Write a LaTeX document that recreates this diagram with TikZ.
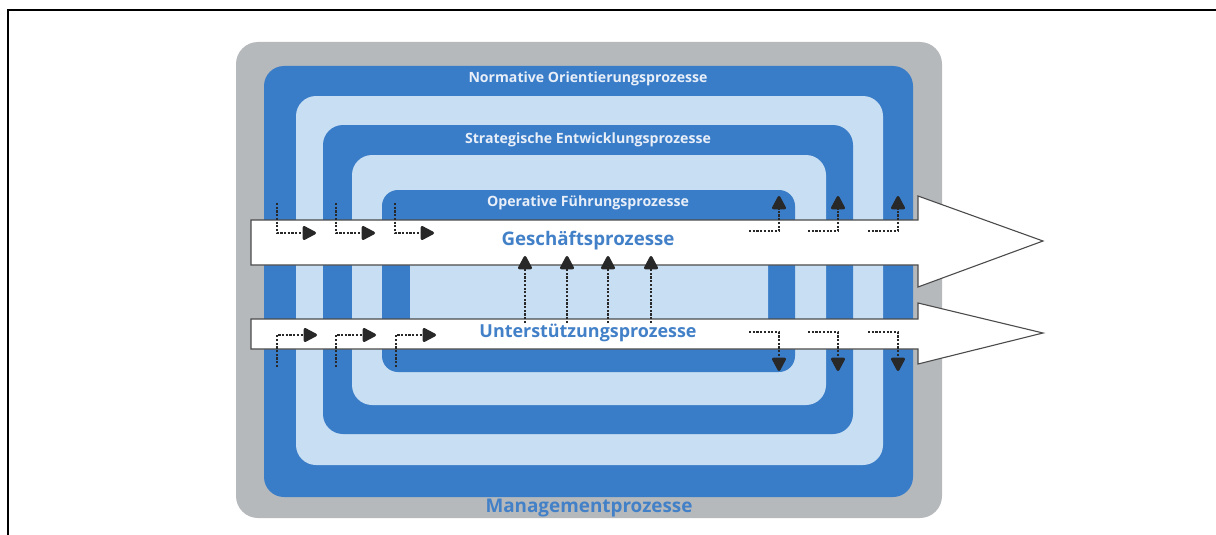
\documentclass[tikz,border=0pt]{standalone}
\usepackage{fontspec}
\setmainfont{Open Sans}
\usepackage{graphicx}
\usetikzlibrary{arrows.meta}
\definecolor{ringgray}{RGB}{181,185,188}
\definecolor{ringblue}{RGB}{57,124,200}
\definecolor{ringlight}{RGB}{200,222,242}
\definecolor{labelblue}{RGB}{66,128,200}
\definecolor{labelwhite}{RGB}{232,239,248}
\definecolor{dotgray}{RGB}{40,40,40}
\definecolor{outlinegray}{RGB}{75,75,75}
\newcommand{\fitw}[2]{\resizebox{#1pt}{!}{\bfseries #2}}
\begin{document}
\begin{tikzpicture}[x=1pt,y=-1pt,
  ring/.style={rounded corners=20pt},
  whitelabel/.style={inner sep=0pt,text=labelwhite,anchor=center},
  bluelabel/.style={inner sep=0pt,text=labelblue,anchor=center},
  flowarrow/.style={fill=white,draw=outlinegray,line width=1.1pt,line join=miter},
  dotconn/.style={draw=dotgray,line width=2.8pt,dash pattern=on 2.2pt off 1.5pt,
    -{Triangle[length=15pt,width=15pt,round=false]}},
  frameline/.style={line width=2pt,draw=black}]
\useasboundingbox (0,0) rectangle (1216,535);
% frame
\draw[frameline] (8,535) -- (8,10) -- (1216,10);
% concentric rings
\path[fill=ringgray,rounded corners=22pt] (236,42) rectangle (942,518);
\path[fill=ringblue,ring] (264,66) rectangle (913,497);
\path[fill=ringlight,ring] (296,96) rectangle (883,465);
\path[fill=ringblue,ring] (323,125) rectangle (853,434);
\path[fill=ringlight,ring] (352,155) rectangle (826,405);
\path[fill=ringblue,rounded corners=16pt] (382,190) rectangle (795,372);
\path[fill=ringlight,rounded corners=10pt] (410,226) rectangle (768,345);
% ring labels
\node[whitelabel] (normative) at (588,79) {\fitw{239}{Normative Orientierungsprozesse}};
\node[whitelabel] (strategisch) at (588,140) {\fitw{246}{Strategische Entwicklungsprozesse}};
\node[whitelabel] (operativ) at (588,203) {\fitw{202}{Operative Führungsprozesse}};
\node[bluelabel] (management) at (589,508) {\fitw{207}{Managementprozesse}};
% big flow arrows
\draw[flowarrow] (251,220) -- (918,220) -- (918,196) -- (1043,241) -- (918,287) -- (918,265) -- (251,265) -- cycle;
\draw[flowarrow] (251,319) -- (918,319) -- (918,303) -- (1043,333) -- (918,364) -- (918,349) -- (251,349) -- cycle;
\node[bluelabel] (geschaeft) at (588,241) {\fitw{173}{Geschäftsprozesse}};
\node[bluelabel] (unterstuetzung) at (588,333) {\fitw{217}{Unterstützungsprozesse}};
% dotted connectors, left upper
\foreach \c in {277,336,395} {
  \coordinate (lu\c) at (\c,203);
  \coordinate (luend\c) at (\c+39,233);
  \draw[dotconn] (lu\c) |- (luend\c);
}
% left lower
\foreach \c in {277,336,396} {
  \coordinate (ll\c) at (\c,367);
  \coordinate (llend\c) at (\c+40,335);
  \draw[dotconn] (ll\c) |- (llend\c);
}
% right upper
\foreach \c in {779,838,898} {
  \coordinate (ru\c) at (\c-30,231);
  \coordinate (ruend\c) at (\c,196);
  \draw[dotconn] (ru\c) -| (ruend\c);
}
% right lower
\foreach \c in {779,838,898} {
  \coordinate (rl\c) at (\c-30,332);
  \coordinate (rlend\c) at (\c,371);
  \draw[dotconn] (rl\c) -| (rlend\c);
}
% middle verticals
\foreach \c in {525,567,608,651} {
  \coordinate (m\c) at (\c,323);
  \coordinate (mend\c) at (\c,256);
  \draw[dotconn] (m\c) -- (mend\c);
}
\end{tikzpicture}
\end{document}
